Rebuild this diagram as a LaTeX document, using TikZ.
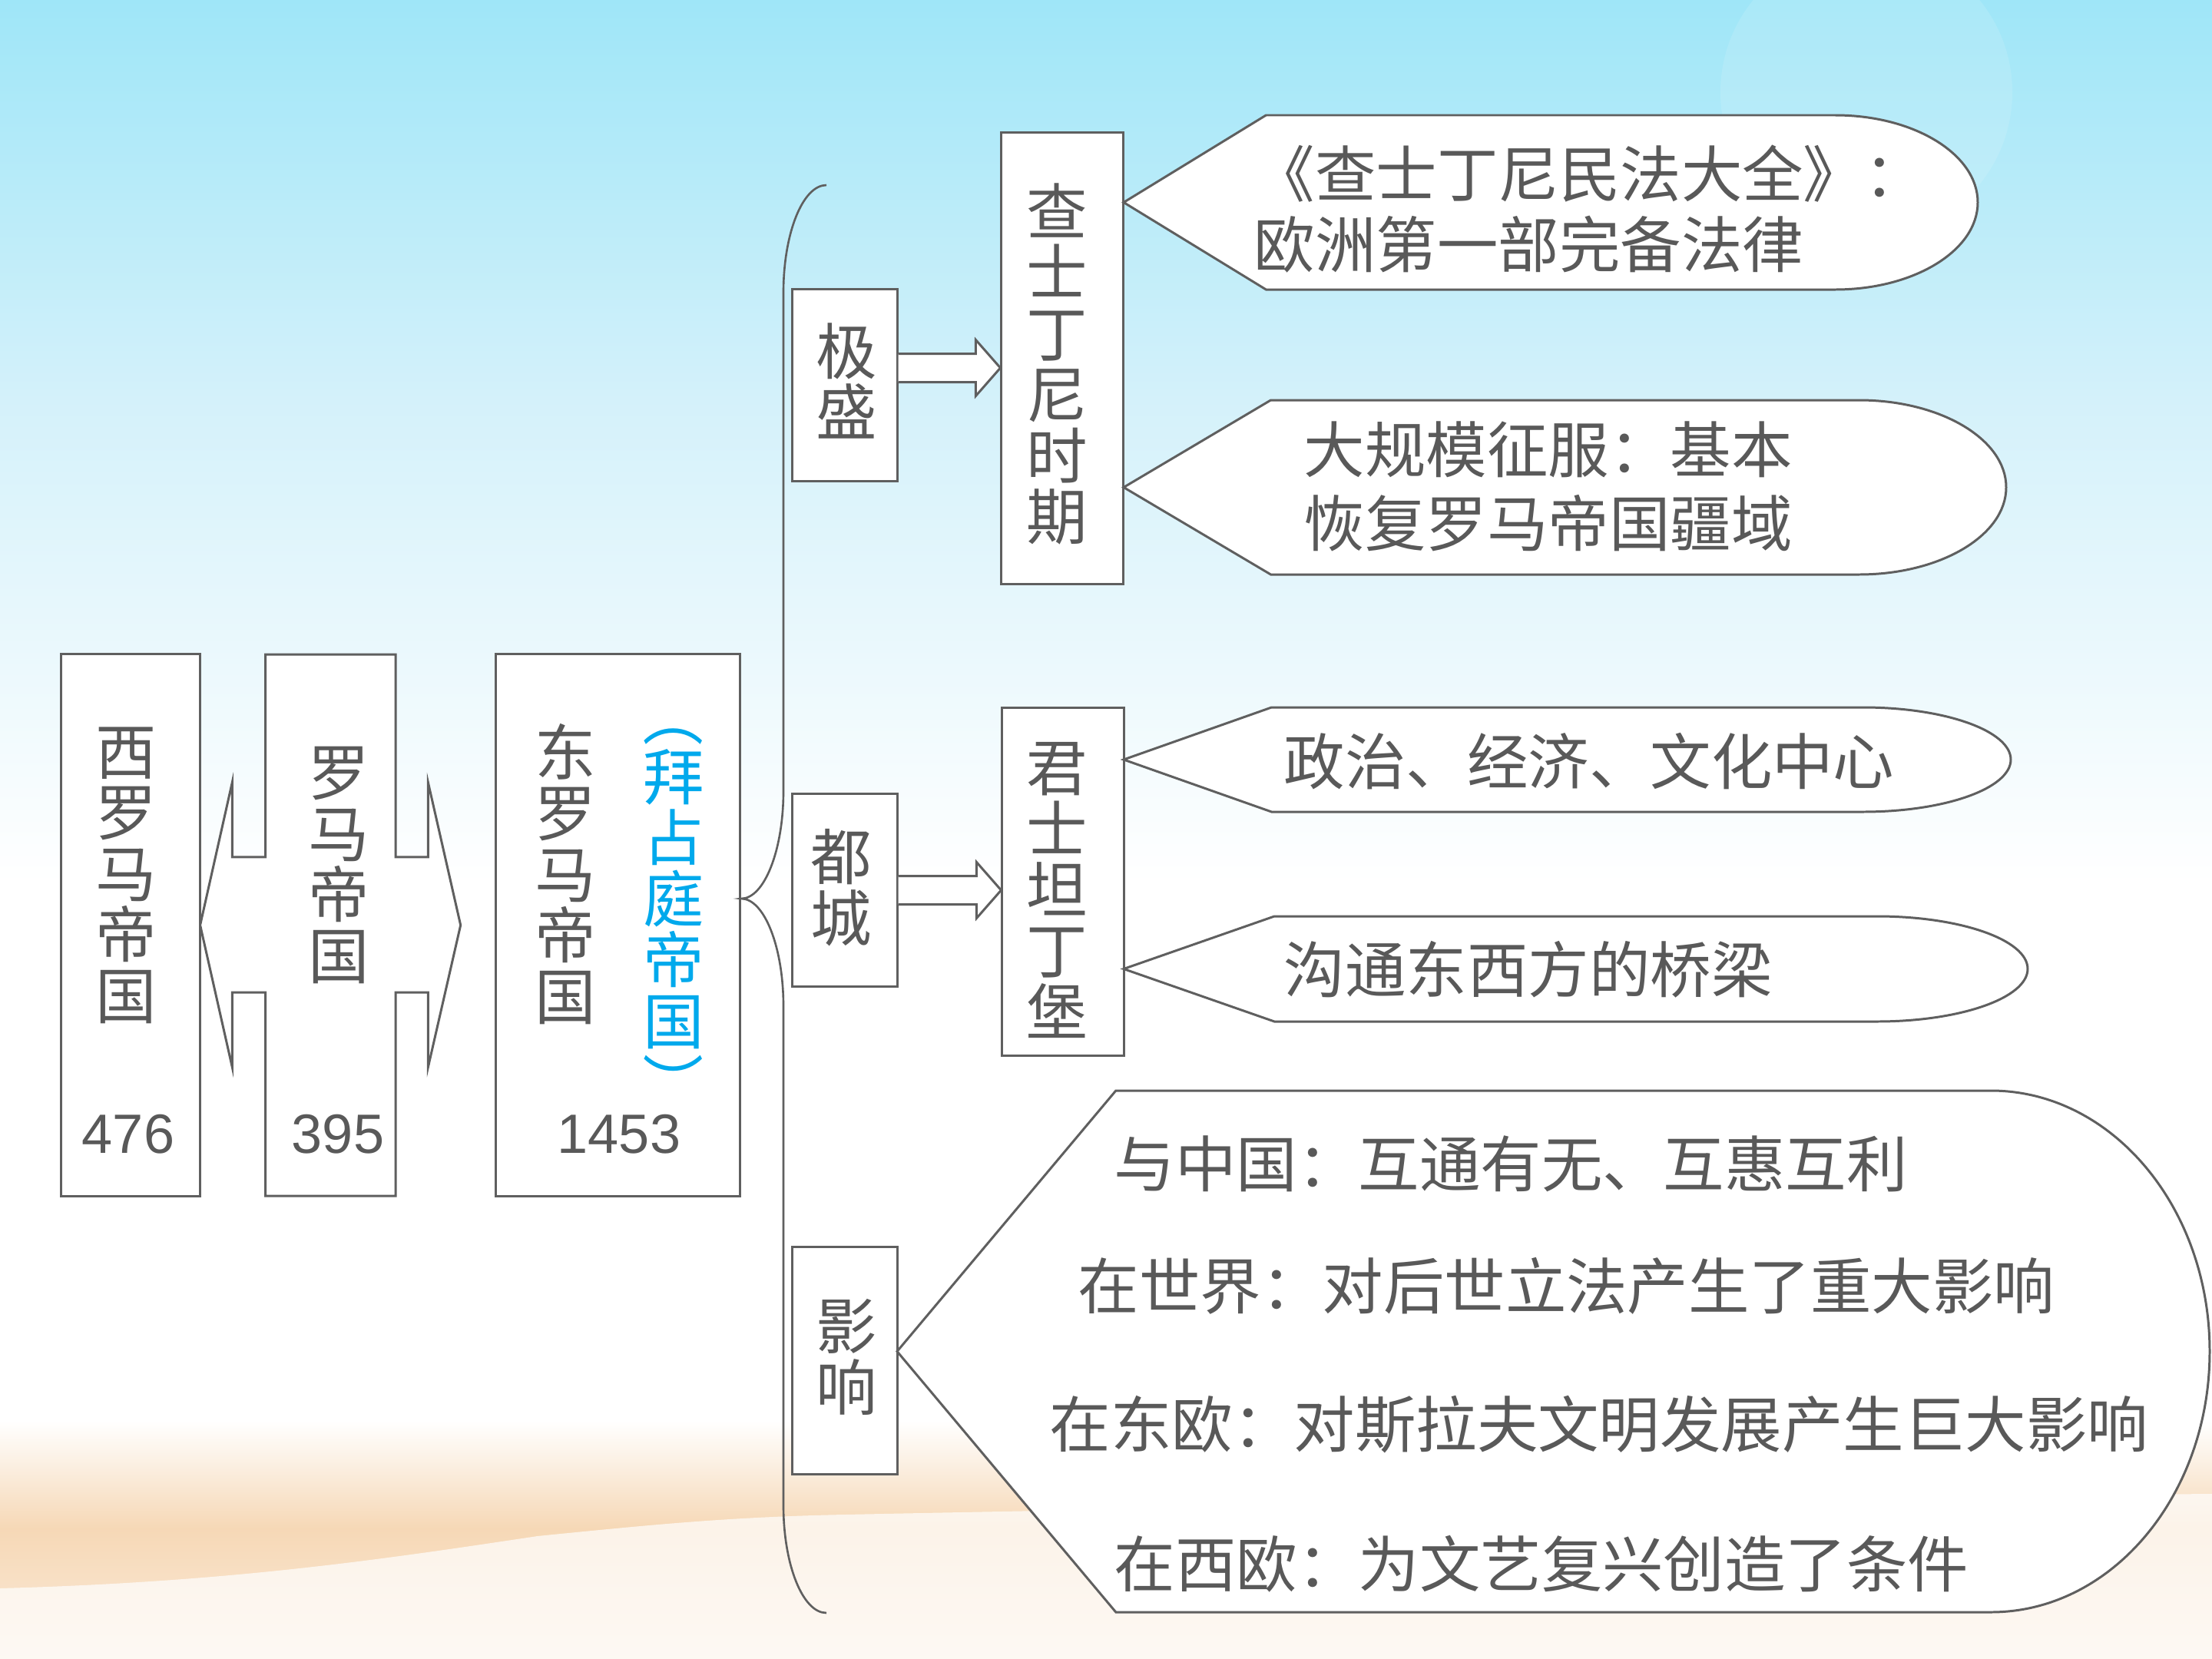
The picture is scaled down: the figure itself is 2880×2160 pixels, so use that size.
\documentclass[tikz,border=0pt]{standalone}
\usepackage{fontspec}
\newfontfamily\cjkf{Noto Sans CJK SC}
\newfontfamily\numf{Liberation Sans}
\usetikzlibrary{calc}
\definecolor{ink}{HTML}{595959}
\definecolor{edge}{HTML}{5F5F5F}
\definecolor{byz}{HTML}{00A9EC}
\definecolor{skytop}{HTML}{9FE6F8}
\definecolor{skymid}{HTML}{D4F1FA}
\definecolor{sand}{HTML}{F6D8B6}
\definecolor{sandlight}{HTML}{FBEBDA}
\newcommand{\vfont}{\cjkf\fontsize{22.6pt}{22.6pt}\selectfont\lineskiplimit=-50pt\lineskip=0pt}
\newcommand{\hfont}{\cjkf\fontsize{22.6pt}{26pt}\selectfont}
\newcommand{\nfont}{\numf\fontsize{20.5pt}{24pt}\selectfont}
% flowchart "display" shape: name, tip x, top y, bottom y, right x
\newcommand{\dispshape}[5]{%
  \pgfmathsetmacro{\dr}{(#5-#2)/6}%
  \pgfmathsetmacro{\dl}{#2+\dr}%
  \pgfmathsetmacro{\dR}{#5-\dr}%
  \pgfmathsetmacro{\dm}{(#3+#4)/2}%
  \pgfmathsetmacro{\dh}{(#4-#3)/2}%
  \pgfmathsetmacro{\ka}{\dR+0.5523*\dr}%
  \pgfmathsetmacro{\kb}{0.5523*\dh}%
  \draw[box] (#2,\dm) coordinate (#1) -- (\dl,#3) -- (\dR,#3)
    .. controls (\ka,#3) and (#5,\dm-\kb) .. (#5,\dm)
    .. controls (#5,\dm+\kb) and (\ka,#4) .. (\dR,#4) -- (\dl,#4) -- cycle;}
% hollow block arrow: start coordinate, tip coordinate
\newcommand{\blockarrow}[2]{%
  \draw[box] ($(#1)+(0,-18.5)$) -- ($(#2)+(-32,-18.5)$) -- ($(#2)+(-32,-36.5)$)
    -- (#2) -- ($(#2)+(-32,36.5)$) -- ($(#2)+(-32,18.5)$) -- ($(#1)+(0,18.5)$);}
\begin{document}
\begin{tikzpicture}[x=0.01cm,y=-0.01cm,
  box/.style={draw=edge,line width=0.85pt,fill=white},
  vtxt/.style={font=\vfont,text=ink,align=center,inner sep=0pt},
  htxt/.style={font=\hfont,text=ink,anchor=west,inner sep=0pt},
  num/.style={font=\nfont,text=ink,inner sep=0pt},
  bracestyle/.style={draw=edge,line width=0.75pt}]
\useasboundingbox (0,0) rectangle (2880,2160);
% background
\fill[white] (0,0) rectangle (2880,2160);
\shade[top color=skytop,bottom color=skymid] (0,0) rectangle (2880,520);
\shade[top color=skymid,bottom color=white] (0,519) rectangle (2880,1150);
\fill[white,opacity=0.12] (2430,120) circle[radius=190];
\shade[top color=white,bottom color=sand] (0,1850) rectangle (2880,1990);
\shade[top color=sand,bottom color=sandlight] (0,1989) rectangle (2880,2160);
\fill[white,opacity=0.7] (0,2068) .. controls (300,2060) and (500,2030) .. (700,2000)
  .. controls (850,1985) and (950,1975) .. (1100,1972)
  .. controls (1700,1960) and (2300,1950) .. (2880,1945) -- (2880,2160) -- (0,2160) -- cycle;

% left boxes
\node[box,minimum width=1.811cm,minimum height=7.05cm] (wr) at (170.05,1204.5) {};
\node[vtxt] (wrt) at (164,1139.5) {西\\罗\\马\\帝\\国};
\node[num] (n476) at (167,1477) {476};

\draw[box] (345.7,852) -- (515.2,852) -- (515.2,1115.8) -- (557.4,1115.8) -- (557.4,1018.8)
  -- (599.7,1204.5) -- (557.4,1389.3) -- (557.4,1292.2) -- (515.2,1292.2) -- (515.2,1557)
  -- (345.7,1557) -- (345.7,1292.2) -- (302.3,1292.2) -- (302.3,1389.3) -- (260.6,1204.5)
  -- (302.3,1018.8) -- (302.3,1115.8) -- (345.7,1115.8) -- cycle;
\node[vtxt] (rt) at (441,1126.5) {罗\\马\\帝\\国};
\node[num] (n395) at (440,1477) {395};

\node[box,minimum width=3.179cm,minimum height=7.05cm] (er) at (804.45,1204.5) {};
\node[vtxt] (ert) at (736,1138) {东\\罗\\马\\帝\\国};
\node[vtxt,text=byz] (byzt) at (877,1170.5) {拜\\占\\庭\\帝\\国};
\node[vtxt,text=byz,rotate=-90] (byzl) at (877,933) {（};
\node[vtxt,text=byz,rotate=-90] (byzr) at (877,1410) {）};
\node[num] (n1453) at (806,1477) {1453};

% brace
\coordinate (bt) at (er.east |- 0,1170);
\draw[bracestyle] (1076,241) .. controls (1045,241) and (1020,304) .. (1020,381)
  -- (1020,1030) .. controls (1020,1107) and (995,1170) .. (bt)
  .. controls (995,1170) and (1020,1233) .. (1020,1310)
  -- (1020,1960) .. controls (1020,2037) and (1045,2100) .. (1076,2100);

% middle boxes
\node[box,minimum width=1.36cm,minimum height=2.49cm] (ji) at (1100,501.5) {};
\node[vtxt] (jit) at (1102,496) {极\\盛};
\node[box,minimum width=1.585cm,minimum height=5.87cm] (jus) at (1383.25,466.5) {};
\node[vtxt] (just) at (1376,474) {查\\士\\丁\\尼\\时\\期};
\coordinate (t1) at (jus.west |- 0,479);
\blockarrow{ji.east |- t1}{t1}

\node[box,minimum width=1.36cm,minimum height=2.5cm] (du) at (1100,1159) {};
\node[vtxt] (dut) at (1095,1155.5) {都\\城};
\node[box,minimum width=1.58cm,minimum height=4.52cm] (con) at (1384,1148) {};
\node[vtxt] (cont) at (1376,1159) {君\\士\\坦\\丁\\堡};
\coordinate (t2) at (con.west |- 0,1159);
\blockarrow{du.east |- t2}{t2}

\node[box,minimum width=1.36cm,minimum height=2.95cm] (yx) at (1100,1771.5) {};
\node[vtxt] (yxt) at (1102,1767) {影\\响};

% callouts
\dispshape{c1}{1463}{150}{377}{2575}
\node[htxt] (c1a) at (1632,226) {《查士丁尼民法大全》：};
\node[htxt] (c1b) at (1632,318) {欧洲第一部完备法律};

\dispshape{c2}{1463}{521}{748}{2612}
\node[htxt] (c2a) at (1697,585) {大规模征服：基本};
\node[htxt] (c2b) at (1697,681) {恢复罗马帝国疆域};

\dispshape{c3}{1463}{921}{1057}{2618}
\node[htxt] (c3a) at (1671,991) {政治、经济、文化中心};

\dispshape{c4}{1463}{1193}{1330}{2640}
\node[htxt] (c4a) at (1671,1262) {沟通东西方的桥梁};

\dispshape{c5}{1168}{1420}{2099}{2877}
\node[htxt] (c5a) at (1450,1515) {与中国：互通有无、互惠互利};
\node[htxt] (c5b) at (1403,1674) {在世界：对后世立法产生了重大影响};
\node[htxt] (c5c) at (1366,1855) {在东欧：对斯拉夫文明发展产生巨大影响};
\node[htxt] (c5d) at (1450,2036) {在西欧：为文艺复兴创造了条件};
\end{tikzpicture}
\end{document}
